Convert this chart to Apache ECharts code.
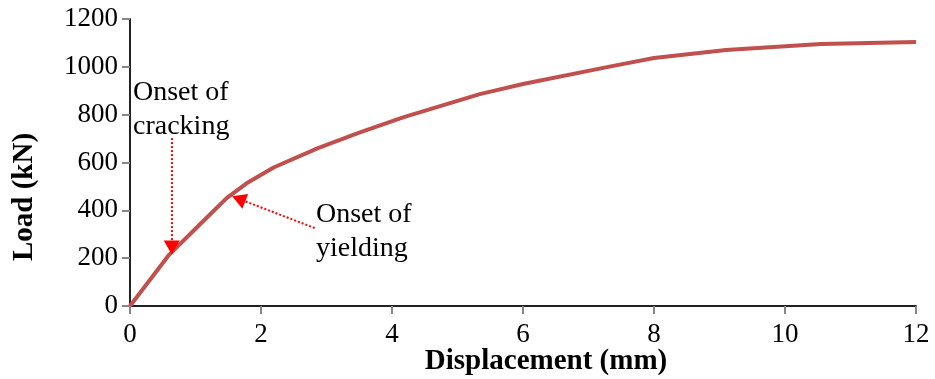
<!DOCTYPE html>
<html>
<head>
<meta charset="UTF-8">
<title>Load - displacement</title>
<script src="https://cdn.jsdelivr.net/npm/echarts@6/dist/echarts.min.js"></script>
<style>
  html, body { margin: 0; padding: 0; background: #fff; }
  #chart { width: 935px; height: 379px; }
</style>
</head>
<body>
<div id="chart"></div>
<script>
// displacement (mm) and load (kN)
var disp = [0, 0.6, 1.1, 1.48, 1.78, 2.2, 2.87, 3.5, 4.18, 5.34, 6.0, 7.36, 8.0, 9.1, 10.55, 12.0];
var load = [0, 215, 350, 452, 513, 580, 660, 725, 790, 886, 928, 1003, 1037, 1070, 1095, 1104];

// arrows: [fromX, fromY] -> [toX, toY]
var crackArrow = [[0.637, 702], [0.637, 245]];
var yieldArrow = [[2.82, 326], [1.66, 448]];

var serif = '"Liberation Serif", "Times New Roman", serif';
var axisGrey = '#868686';

var chart = echarts.init(document.getElementById('chart'));

var points = disp.map(function (d, i) { return [d, load[i]]; });

var option = {
  animation: false,
  grid: { left: 130, right: 19, top: 19, bottom: 73 },
  xAxis: [{
    type: 'value', min: 0, max: 12, interval: 2,
    axisLine: { lineStyle: { color: axisGrey, width: 2 } },
    axisTick: { show: true, length: 8, lineStyle: { color: axisGrey, width: 2 } },
    axisLabel: { color: '#000', fontFamily: serif, fontSize: 27, margin: 15 },
    splitLine: { show: false }
  }, {
    type: 'value', min: 0, max: 12, position: 'top',
    axisLine: { show: true, lineStyle: { color: '#000', width: 1.5 } },
    axisTick: { show: false }, axisLabel: { show: false }, splitLine: { show: false }
  }],
  yAxis: [{
    type: 'value', min: 0, max: 1200, interval: 200,
    axisLine: { show: true, lineStyle: { color: axisGrey, width: 2 } },
    axisTick: { show: true, length: 8, lineStyle: { color: axisGrey, width: 2 } },
    axisLabel: {
      color: '#000', fontFamily: serif, fontSize: 27, margin: 12,
      formatter: function (v) { return String(v); }
    },
    splitLine: { show: false }
  }, {
    type: 'value', min: 0, max: 1200, position: 'right',
    axisLine: { show: true, lineStyle: { color: '#000', width: 1.5 } },
    axisTick: { show: false }, axisLabel: { show: false }, splitLine: { show: false }
  }],
  series: [{
    type: 'line',
    data: points,
    showSymbol: false,
    lineStyle: { color: '#C0504D', width: 4 },
    markLine: {
      silent: true,
      symbol: ['none', 'triangle'],
      symbolSize: [16, 14],
      lineStyle: { color: '#FF0000', type: 'dotted', width: 2 },
      label: { show: false },
      data: [
        [{ coord: crackArrow[0] }, { coord: crackArrow[1] }],
        [{ coord: yieldArrow[0] }, { coord: yieldArrow[1] }]
      ]
    }
  }],
  graphic: [
    {
      type: 'text', left: 133, top: 76,
      style: { text: 'Onset of\ncracking', font: '28px ' + serif, lineHeight: 34, fill: '#000' }
    },
    {
      type: 'text', left: 316, top: 198,
      style: { text: 'Onset of\nyielding', font: '28px ' + serif, lineHeight: 34, fill: '#000' }
    },
    {
      type: 'text', x: 546, y: 362,
      style: { text: 'Displacement (mm)', font: 'bold 29px ' + serif, fill: '#000', align: 'center', verticalAlign: 'middle' }
    },
    {
      type: 'text', x: 25, y: 197, rotation: Math.PI / 2,
      style: { text: 'Load (kN)', font: 'bold 29px ' + serif, fill: '#000', align: 'center', verticalAlign: 'middle' }
    }
  ]
};

chart.setOption(option);
</script>
</body>
</html>
